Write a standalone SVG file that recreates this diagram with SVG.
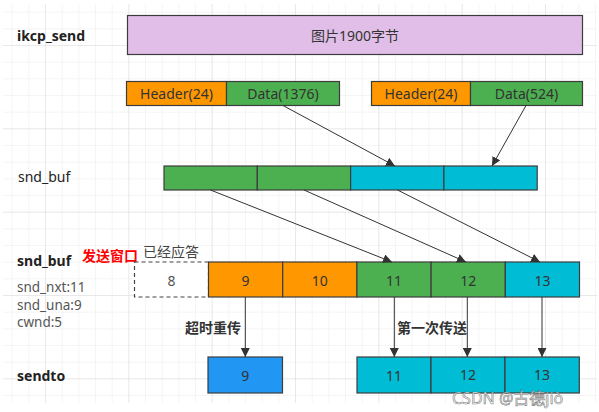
<svg xmlns="http://www.w3.org/2000/svg" width="599" height="412" viewBox="0 0 599 412">
<defs>
<pattern id="g1" patternUnits="userSpaceOnUse" x="11.667" y="11.667" width="16.667" height="16.667">
<path d="M0 0 H16.667 M0 0 V16.667" stroke="#ebebeb" stroke-width="1" fill="none"/>
</pattern>
<pattern id="g2" patternUnits="userSpaceOnUse" x="45" y="45" width="83.333" height="83.333">
<path d="M0 0 H83.333 M0 0 V83.333" stroke="#dddddd" stroke-width="1" fill="none"/>
</pattern>
<marker id="arr" viewBox="0 0 10 10" refX="10" refY="5" markerWidth="9" markerHeight="9" markerUnits="userSpaceOnUse" orient="auto">
<path d="M0 0 L10 5 L0 10 Z" fill="#333"/>
</marker>
<style>
.b{stroke:#3c3c3c;stroke-width:1.2}
.pur{fill:#e1bee7}.org{fill:#ff9800}.grn{fill:#4caf50}.cyn{fill:#00bcd4}.blu{fill:#2196f3}
.t{font-family:"Noto Sans","Noto Sans CJK SC",sans-serif;font-size:14px;fill:#333;text-anchor:middle;dominant-baseline:central}
.lb{font-family:"Noto Sans","Noto Sans CJK SC",sans-serif;font-size:14px;fill:#222;dominant-baseline:central}
.bold{font-weight:bold}
.gy{fill:#555;font-size:13.5px}
.ln{stroke:#333;stroke-width:1;fill:none;marker-end:url(#arr)}
</style>
</defs>
<rect x="0" y="0" width="599" height="412" fill="#fff"/>
<rect x="3" y="4" width="594" height="399" fill="url(#g1)"/>
<rect x="3" y="4" width="594" height="399" fill="url(#g2)"/>

<g id="labels">
<text class="lb bold" x="17" y="35">ikcp_send</text>
<text class="lb" x="18" y="176">snd_buf</text>
<text class="lb bold" x="17" y="260">snd_buf</text>
<text class="lb gy" x="17" y="287">snd_nxt:11</text>
<text class="lb gy" x="17" y="305">snd_una:9</text>
<text class="lb gy" x="17" y="322">cwnd:5</text>
<text class="lb bold" x="17" y="375">sendto</text>
<text class="lb bold" x="82" y="255" style="fill:#ff0000">发送窗口</text>
<text class="lb" x="143" y="251" style="fill:#444">已经应答</text>
</g>

<g id="ikcp_send">
<rect class="b pur" x="127.5" y="15.5" width="455" height="39"/>
<text class="t" x="355" y="35">图片1900字节</text>
</g>

<g id="seg1">
<rect class="b org" x="126.5" y="81.5" width="100" height="24"/>
<text class="t" x="176.5" y="93.5">Header(24)</text>
<rect class="b grn" x="226.5" y="81.5" width="113" height="24"/>
<text class="t" x="283" y="93.5">Data(1376)</text>
</g>
<g id="seg2">
<rect class="b org" x="371.5" y="81.5" width="99" height="24"/>
<text class="t" x="421" y="93.5">Header(24)</text>
<rect class="b grn" x="470.5" y="81.5" width="112" height="24"/>
<text class="t" x="526.5" y="93.5">Data(524)</text>
</g>

<g id="snd_buf">
<rect class="b grn" x="164" y="166" width="93.3" height="24"/>
<rect class="b grn" x="257.3" y="166" width="93.3" height="24"/>
<rect class="b cyn" x="350.6" y="166" width="93.3" height="24"/>
<rect class="b cyn" x="443.9" y="166" width="93.3" height="24"/>
</g>

<g id="window">
<rect x="134.5" y="262" width="74" height="35" fill="#fff" stroke="#444" stroke-width="1.2" stroke-dasharray="4 3"/>
<text class="t" x="171.5" y="280" style="fill:#555">8</text>
<rect class="b org" x="208.5" y="262" width="74.2" height="35"/>
<text class="t" x="245.6" y="280">9</text>
<rect class="b org" x="282.7" y="262" width="74.2" height="35"/>
<text class="t" x="319.8" y="280">10</text>
<rect class="b grn" x="356.9" y="262" width="74.2" height="35"/>
<text class="t" x="394" y="280">11</text>
<rect class="b grn" x="431.1" y="262" width="74.2" height="35"/>
<text class="t" x="468.2" y="280">12</text>
<rect class="b cyn" x="505.3" y="262" width="74.2" height="35"/>
<text class="t" x="542.4" y="280">13</text>
</g>

<g id="sendto">
<rect class="b blu" x="208" y="357" width="74.5" height="36"/>
<text class="t" x="245.3" y="375">9</text>
<rect class="b cyn" x="357" y="357" width="74" height="36"/>
<text class="t" x="394" y="375">11</text>
<rect class="b cyn" x="431" y="357" width="74" height="36"/>
<text class="t" x="468" y="374">12</text>
<rect class="b cyn" x="505" y="357" width="74.3" height="36"/>
<text class="t" x="542" y="374">13</text>
</g>

<g id="connectors">
<line class="ln" x1="283" y1="105.5" x2="395" y2="166"/>
<line class="ln" x1="526" y1="105.5" x2="492" y2="166"/>
<line class="ln" x1="210.5" y1="190" x2="392" y2="262"/>
<line class="ln" x1="304" y1="190" x2="466" y2="262"/>
<line class="ln" x1="397.5" y1="190" x2="540" y2="262"/>
<line class="ln" x1="245.3" y1="297" x2="245.3" y2="357"/>
<line class="ln" x1="394.3" y1="297" x2="394.3" y2="357"/>
<line class="ln" x1="467.3" y1="297" x2="467.3" y2="357"/>
<line class="ln" x1="542" y1="297" x2="542" y2="357"/>
</g>

<g id="edge-labels">
<text class="lb bold" x="185" y="327" style="fill:#333">超时重传</text>
<text class="lb bold" x="397" y="327" style="fill:#333">第一次传送</text>
</g>

<text x="452" y="404" style="font-family:'Noto Sans','Noto Sans CJK SC',sans-serif;font-size:16px;fill:#fff;fill-opacity:0.85;stroke:#555;stroke-width:0.6;stroke-opacity:0.8">CSDN @古德jiò</text>
</svg>
